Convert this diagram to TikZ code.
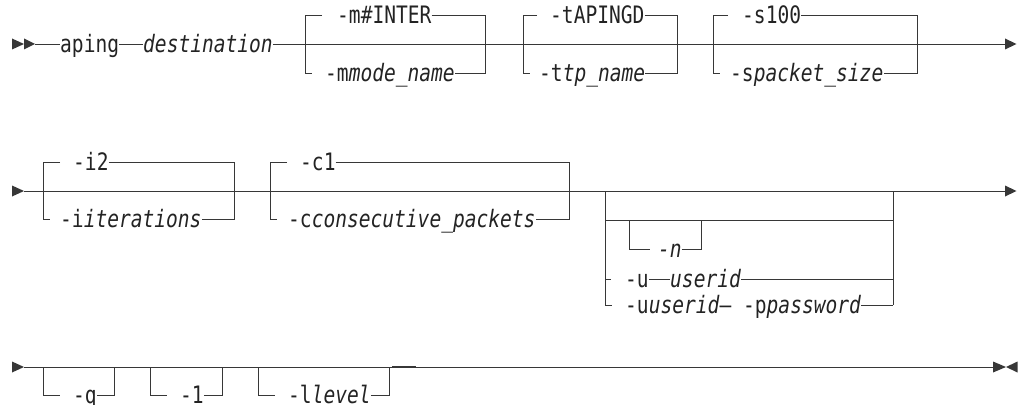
\documentclass[tikz,border=0pt]{standalone}
\usepackage{fontspec}
\newfontfamily\rrfont{DejaVu Sans Mono}[FakeStretch=0.815]
\definecolor{linecol}{RGB}{55,55,55}
\definecolor{txtcol}{RGB}{35,35,35}
\tikzset{
  rr/.style={draw=linecol, line width=0.9pt},
  arr/.style={fill=linecol},
  txt/.style={inner sep=0pt, anchor=base west, text=txtcol, font=\rrfont\fontsize{24}{24}\selectfont},
}
\begin{document}
\begin{tikzpicture}[x=1pt,y=-1pt]
\useasboundingbox (0,0) rectangle (1019,404);
% ---------------- Row 1 ----------------
\fill[arr] (12,38.5) -- (24,44) -- (12,49.5) -- cycle;
\fill[arr] (24,38.5) -- (35,44) -- (24,49.5) -- cycle;
\coordinate (r1s) at (35,44);
\coordinate (r1e) at (1005,44);
\node[txt] (aping) at (60,52.5) {aping};
\node[txt] (dest) at (143,52.5) {\itshape destination};
\draw[rr] (r1s) -- ([yshift=8.5pt]aping.base west);
\draw[rr] ([yshift=8.5pt]aping.base east) -- ([yshift=8.5pt]dest.base west);
\draw[rr] ([yshift=8.5pt]dest.base east) -- (r1e);
\fill[arr] (1005,38.5) -- (1016.5,44) -- (1005,49.5) -- cycle;
% box m
\node[txt] (m1) at (337,23.5) {-m\#INTER};
\node[txt] (m2) at (325,81.5) {-m\textit{mode\_name}};
\draw[rr] (322,15) -- (305,15) -- (305,73) -- (312,73);
\draw[rr] ([yshift=8.5pt]m1.base east) -- (485,15) -- (485,73) -- ([yshift=8.5pt]m2.base east);
% box t
\node[txt] (t1) at (550,23.5) {-tAPINGD};
\node[txt] (t2) at (539,81.5) {-t\textit{tp\_name}};
\draw[rr] (537,15) -- (523,15) -- (523,73) -- (530,73);
\draw[rr] ([yshift=8.5pt]t1.base east) -- (677,15) -- (677,73) -- ([yshift=8.5pt]t2.base east);
% box s
\node[txt] (s1) at (742,23.5) {-s100};
\node[txt] (s2) at (730,81.5) {-s\textit{packet\_size}};
\draw[rr] (728,15) -- (713,15) -- (713,73) -- (720,73);
\draw[rr] ([yshift=8.5pt]s1.base east) -- (917,15) -- (917,73) -- ([yshift=8.5pt]s2.base east);
% ---------------- Row 2 ----------------
\fill[arr] (12,185.5) -- (24,191) -- (12,196.5) -- cycle;
\coordinate (r2s) at (24,191);
\coordinate (r2e) at (1005,191);
\draw[rr] (r2s) -- (r2e);
\fill[arr] (1005,185.5) -- (1016.5,191) -- (1005,196.5) -- cycle;
% box i
\node[txt] (i1) at (73,170.5) {-i2};
\node[txt] (i2) at (60,227.5) {-i\textit{iterations}};
\draw[rr] (60,162) -- (43,162) -- (43,219) -- (50,219);
\draw[rr] ([yshift=8.5pt]i1.base east) -- (234,162) -- (234,219) -- ([yshift=8.5pt]i2.base east);
% box c
\node[txt] (c1) at (300,170.5) {-c1};
\node[txt] (c2) at (288,227.5) {-c\textit{consecutive\_packets}};
\draw[rr] (287,162) -- (270,162) -- (270,219) -- (277,219);
\draw[rr] ([yshift=8.5pt]c1.base east) -- (569,162) -- (569,219) -- ([yshift=8.5pt]c2.base east);
% box user
\draw[rr] (605,191) -- (605,305);
\draw[rr] (893,191) -- (893,305);
\draw[rr] (605,220) -- (893,220);
\node[txt] (n) at (658,257.5) {\itshape -n};
\draw[rr] (629,220) -- (629,249) -- (650,249);
\draw[rr] ([yshift=8.5pt]n.base east) -- (701,249) -- (701,220);
\node[txt] (u1) at (625,287.5) {-u};
\node[txt] (u2) at (670,287.5) {\itshape userid};
\draw[rr] (605,279) -- (611,279);
\draw[rr] ([yshift=8.5pt]u1.base east) -- ([yshift=8.5pt]u2.base west);
\draw[rr] ([yshift=8.5pt]u2.base east) -- (893,279);
\node[txt] (pw) at (625,313.5) {-u\textit{userid}— -p\textit{password}};
\draw[rr] (605,305) -- (612,305);
\draw[rr] ([yshift=8.5pt]pw.base east) -- (893,305);
% ---------------- Row 3 ----------------
\fill[arr] (12,361.5) -- (24,367) -- (12,372.5) -- cycle;
\coordinate (r3s) at (24,367);
\coordinate (r3e) at (993,367);
\draw[rr] (r3s) -- (r3e);
\draw[draw=linecol, line width=1.5pt] (392,367) -- (416,367);
\fill[arr] (993,361.5) -- (1006,367) -- (993,372.5) -- cycle;
\fill[arr] (1017.5,361.5) -- (1006,367) -- (1017.5,372.5) -- cycle;
% box q
\node[txt] (q) at (73,403.5) {-q};
\draw[rr] (43,367) -- (43,395.5) -- (60,395.5);
\draw[rr] ([yshift=8pt]q.base east) -- (114,395.5) -- (114,367);
% box 1
\node[txt] (one) at (180,403.5) {-1};
\draw[rr] (150,367) -- (150,395.5) -- (167,395.5);
\draw[rr] ([yshift=8pt]one.base east) -- (222,395.5) -- (222,367);
% box level
\node[txt] (lv) at (288,403.5) {-l\textit{level}};
\draw[rr] (258,367) -- (258,395.5) -- (275,395.5);
\draw[rr] ([yshift=8pt]lv.base east) -- (389,395.5) -- (389,367);
\end{tikzpicture}
\end{document}
